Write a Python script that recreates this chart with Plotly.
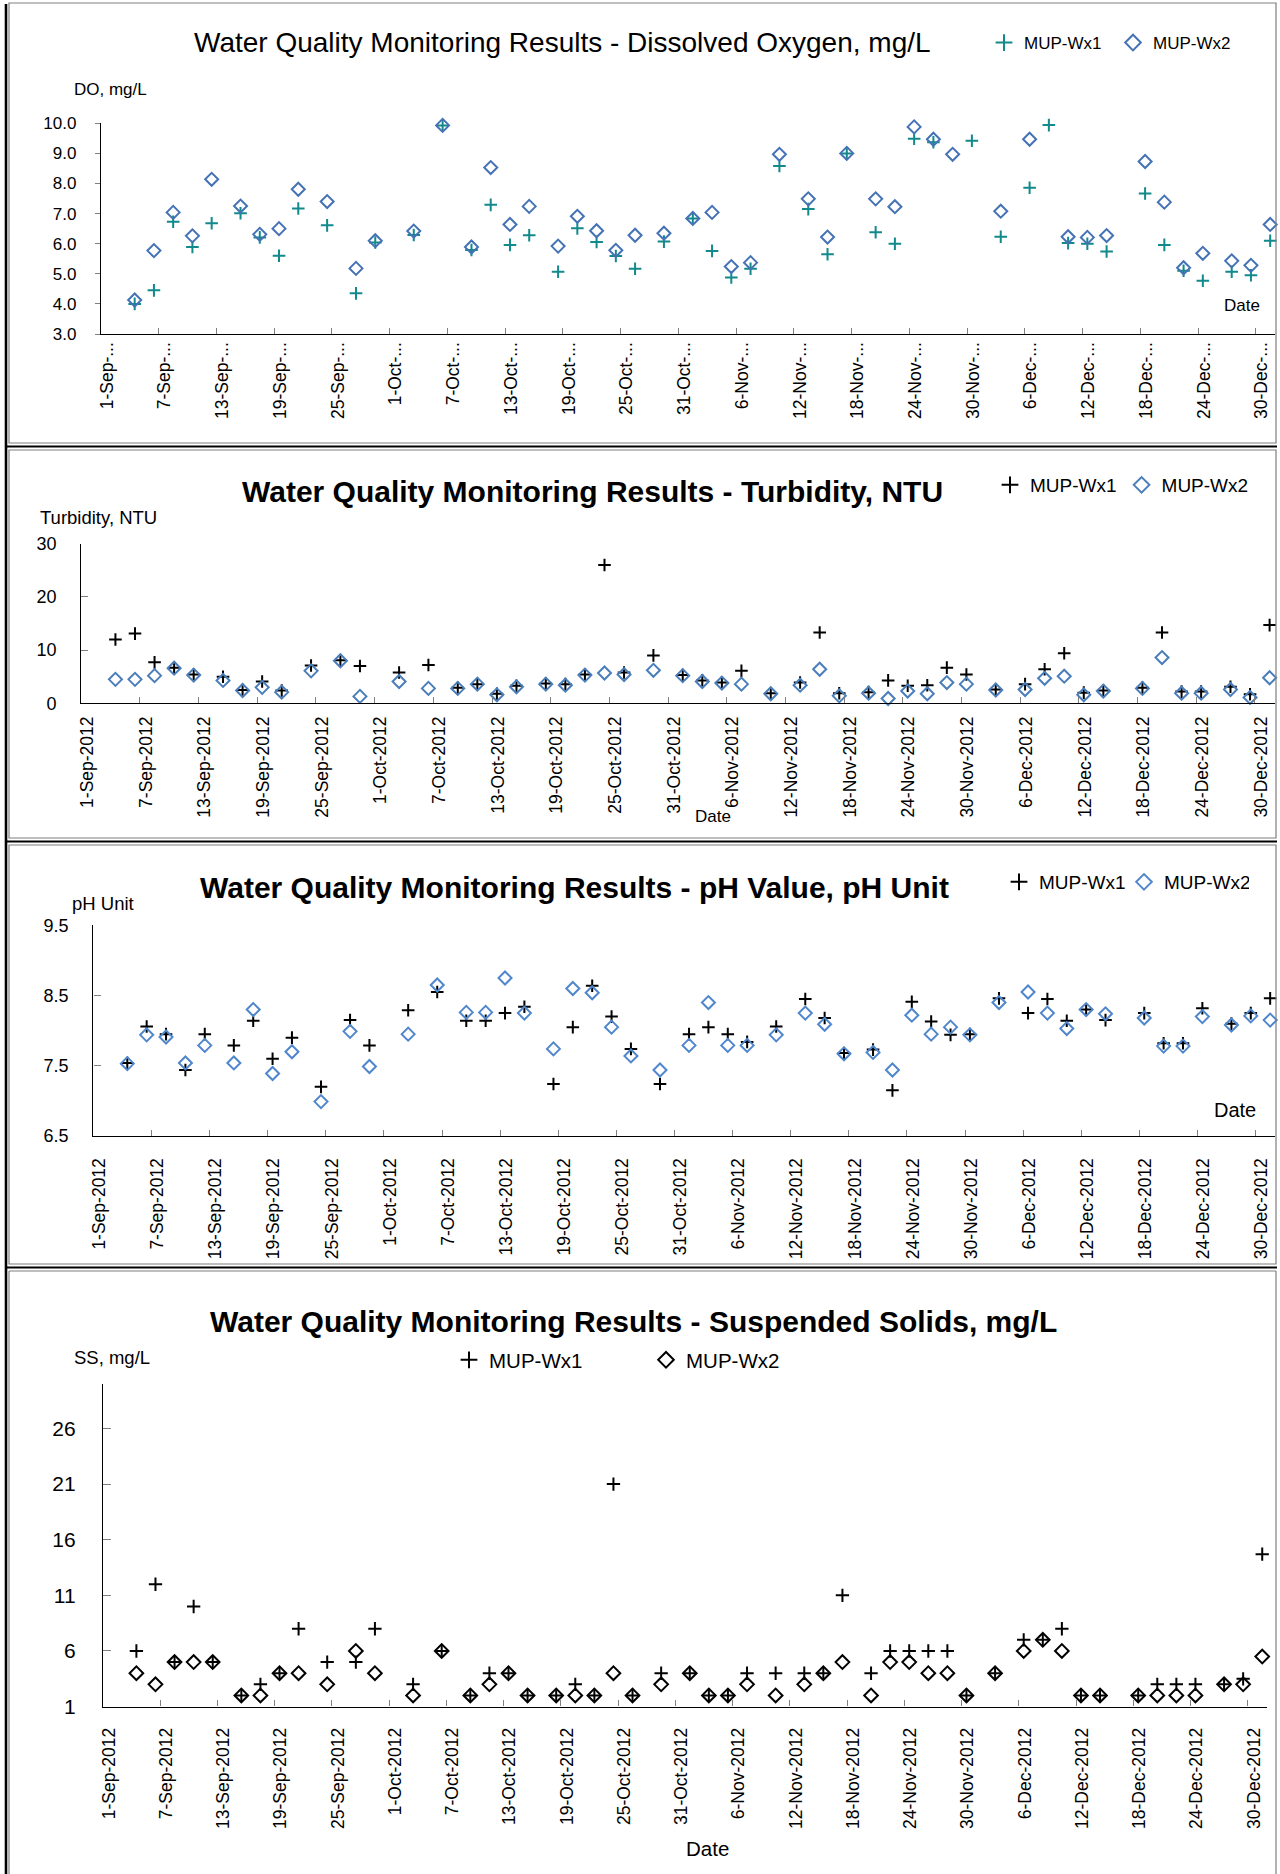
import plotly.graph_objects as go
import pandas as pd

W, H = 1280, 1874
FONT = "Liberation Sans, Arial, Helvetica, sans-serif"

# ---------------- data ----------------
DATES = [
    "2012-09-04", "2012-09-06", "2012-09-08", "2012-09-10", "2012-09-12",
    "2012-09-15", "2012-09-17", "2012-09-19", "2012-09-21",
    "2012-09-24", "2012-09-27", "2012-09-29",
    "2012-10-03", "2012-10-06", "2012-10-09", "2012-10-11", "2012-10-13", "2012-10-15",
    "2012-10-18", "2012-10-20", "2012-10-22", "2012-10-24", "2012-10-26",
    "2012-10-29",
    "2012-11-01", "2012-11-03", "2012-11-05", "2012-11-07",
    "2012-11-10", "2012-11-13", "2012-11-15", "2012-11-17",
    "2012-11-20", "2012-11-22", "2012-11-24", "2012-11-26", "2012-11-28", "2012-11-30",
    "2012-12-03", "2012-12-06", "2012-12-08", "2012-12-10", "2012-12-12", "2012-12-14",
    "2012-12-18", "2012-12-20", "2012-12-22", "2012-12-24",
    "2012-12-27", "2012-12-29", "2012-12-31",
]

DO_WX1 = [4.0, 4.45, 6.73, 5.89, 6.68, 7.01, 6.21, 5.60, 7.17, 6.61, 4.35, 6.04,
          6.29, 9.93, 5.79, 7.29, 5.96, 6.28, 5.07, 6.51, 6.06, 5.59, 5.17, 6.07,
          6.84, 5.76, 4.88, 5.17, 8.58, 7.15, 5.65, 9.0, 6.38, 6.0, 9.49, 9.37, None, 9.42,
          6.23, 7.86, 9.94, 6.02, 6.0, 5.74, 7.67, 5.96, 5.1, 4.77, 5.07, 4.95, 6.1]
DO_WX2 = [4.13, 5.77, 7.04, 6.26, 8.14, 7.25, 6.31, 6.50, 7.81, 7.40, 5.18, 6.10,
          6.42, 9.93, 5.89, 8.53, 6.64, 7.24, 5.92, 6.91, 6.43, 5.78, 6.28, 6.35,
          6.84, 7.04, 5.24, 5.37, 8.97, 7.49, 6.22, 9.0, 7.49, 7.23, 9.88, 9.47, 8.97, None,
          7.08, 9.47, None, 6.23, 6.21, 6.27, 8.73, 7.38, 5.2, 5.68, 5.43, 5.28, 6.64]

TURB_WX1 = [12.0, 13.1, 7.7, 6.7, 5.4, 5.0, 2.5, 4.1, 2.4, 7.1, 8.1, 7.0,
            5.8, 7.2, 2.9, 3.6, 1.8, 3.3, 3.7, 3.6, 5.4, 26.0, 5.8, 9.0,
            5.3, 4.3, 3.9, 6.1, 1.9, 3.9, 13.3, 1.9, 2.1, 4.3, 3.3, 3.4, 6.7, 5.4,
            2.6, 3.6, 6.4, 9.4, 2.0, 2.4, 2.9, 13.3, 2.2, 2.2, 3.1, 1.7, 14.7]
TURB_WX2 = [4.5, 4.5, 5.2, 6.6, 5.3, 4.3, 2.4, 3.0, 2.1, 6.1, 8.0, 1.3,
            4.1, 2.8, 2.8, 3.6, 1.6, 3.1, 3.6, 3.4, 5.3, 5.7, 5.4, 6.2,
            5.2, 4.1, 3.8, 3.6, 1.8, 3.4, 6.4, 1.4, 1.9, 0.9, 2.3, 1.8, 3.9, 3.6,
            2.5, 2.6, 4.7, 5.1, 1.6, 2.3, 2.8, 8.6, 1.9, 1.9, 2.6, 1.1, 4.8]

PH_WX1 = [7.54, 8.06, 7.95, 7.44, 7.95, 7.79, 8.14, 7.60, 7.90, 7.20, 8.15, 7.79,
          8.29, 8.55, 8.14, 8.14, 8.25, 8.34, 7.24, 8.05, 8.64, 8.20, 7.74, 7.24,
          7.95, 8.05, 7.95, 7.84, 8.06, 8.45, 8.18, 7.68, 7.73, 7.15, 8.41, 8.13, 7.94, 7.95,
          8.46, 8.25, 8.45, 8.14, 8.30, 8.15, 8.25, 7.82, 7.82, 8.32, 8.10, 8.25, 8.46]
PH_WX2 = [7.53, 7.94, 7.91, 7.54, 7.79, 7.54, 8.30, 7.39, 7.70, 6.99, 7.99, 7.49,
          7.95, 8.65, 8.26, 8.26, 8.75, 8.25, 7.74, 8.60, 8.54, 8.05, 7.64, 7.44,
          7.79, 8.40, 7.79, 7.79, 7.94, 8.25, 8.09, 7.67, 7.69, 7.44, 8.22, 7.95, 8.05, 7.94,
          8.40, 8.55, 8.25, 8.03, 8.30, 8.24, 8.18, 7.78, 7.78, 8.20, 8.08, 8.21, 8.15]

SS_WX1 = [6, 12, 5, 10, 5, 2, 3, 4, 8, 5, 5, 8,
          3, 6, 2, 4, 4, 2, 2, 3, 2, 21, 2, 4,
          4, 2, 2, 4, 4, 4, 4, 11, 4, 6, 6, 6, 6, 2,
          4, 7, 7, 8, 2, 2, 2, 3, 3, 3, 3, 3.5, 14.7]
SS_WX2 = [4, 3, 5, 5, 5, 2, 2, 4, 4, 3, 6, 4,
          2, 6, 2, 3, 4, 2, 2, 2, 2, 4, 2, 3,
          4, 2, 2, 3, 2, 3, 4, 5, 2, 5, 5, 4, 4, 2,
          4, 6, 7, 6, 2, 2, 2, 2, 2, 2, 3, 3, 5.5]

SERIES_NAMES = ["MUP-Wx1", "MUP-Wx2"]
TITLES = [
    "Water Quality Monitoring Results - Dissolved Oxygen, mg/L",
    "Water Quality Monitoring Results - Turbidity, NTU",
    "Water Quality Monitoring Results - pH Value, pH Unit",
    "Water Quality Monitoring Results - Suspended Solids, mg/L",
]
Y_TITLES = ["DO, mg/L", "Turbidity, NTU", "pH Unit", "SS, mg/L"]
X_TITLE = "Date"

# ---------------- helpers ----------------
def fx(px):
    return px / W

def fy(py):
    return 1 - py / H

# Excel "between tick marks": each sample sits in the middle of its day slot
xpos = pd.to_datetime(pd.Series(DATES)) + pd.Timedelta(hours=12)

panels = [
    dict(wx1=DO_WX1, wx2=DO_WX2, c1="#12898a", c2="#4472b5", c2size=10, c1size=9,
         xdom=(101, 1275), ydom=(123.3, 334), yrange=[3, 10], dtick=1, y0=3, yfmt=".1f",
         yticks="outside", ytlen=5, yfont=17, ystand=15, xfmt="%-d-%b-...", xstand=0,
         title_font=dict(size=28, weight=400), title_xy=(562, 42),
         ytitle_xy=(72, 90), ytitle_size=17, date_xy=(1242, 306), date_size=17,
         leg_xy=(984, 43), leg_size=17, leg_ew=84),
    dict(wx1=TURB_WX1, wx2=TURB_WX2, c1="#000000", c2="#4a7ebb", c2size=10, c1size=9,
         xdom=(81.2, 1274.5), ydom=(543.7, 703.3), yrange=[0, 30], dtick=10, y0=0, yfmt="d",
         yticks="inside", ytlen=7, yfont=18, ystand=20, xfmt="%-d-%b-%Y", xstand=5,
         title_font=dict(size=30, weight=700), title_xy=(592, 491),
         ytitle_xy=(38, 517), ytitle_size=18.5, date_xy=(713, 817), date_size=17,
         leg_xy=(990, 485), leg_size=19, leg_ew=None),
    dict(wx1=PH_WX1, wx2=PH_WX2, c1="#000000", c2="#4f86cc", c2size=10, c1size=9,
         xdom=(93.4, 1275), ydom=(925.3, 1136), yrange=[6.5, 9.5], dtick=1, y0=6.5, yfmt=".1f",
         yticks="inside", ytlen=7, yfont=18, ystand=20, xfmt="%-d-%b-%Y", xstand=14,
         title_font=dict(size=30, weight=700), title_xy=(574, 887),
         ytitle_xy=(70, 903), ytitle_size=18.5, date_xy=(1235, 1110), date_size=20,
         leg_xy=(999, 882), leg_size=19, leg_ew=80),
    dict(wx1=SS_WX1, wx2=SS_WX2, c1="#000000", c2="#000000", c2size=10.5, c1size=9.5,
         xdom=(103, 1267), ydom=(1384, 1706.6), yrange=[1, 30], dtick=5, y0=1, yfmt="d",
         yticks="inside", ytlen=8, yfont=21, ystand=22, xfmt="%-d-%b-%Y", xstand=13,
         title_font=dict(size=30, weight=700), title_xy=(633, 1321),
         ytitle_xy=(72, 1357), ytitle_size=18.5, date_xy=(707, 1848), date_size=20.5,
         leg_xy=(449, 1360), leg_size=20.5, leg_ew=152),
]

fig = go.Figure()
layout = dict(
    width=W, height=H, margin=dict(l=0, r=0, t=0, b=0, pad=0, autoexpand=False),
    paper_bgcolor="white", plot_bgcolor="rgba(0,0,0,0)",
    font=dict(family=FONT, color="#000000"),
    annotations=[], shapes=[],
)

for i, p in enumerate(panels, start=1):
    sfx = "" if i == 1 else str(i)
    xa, ya = "x" + sfx, "y" + sfx
    leg = "legend" + sfx
    fig.add_trace(go.Scatter(
        x=xpos, y=p["wx1"], mode="markers", name=SERIES_NAMES[0],
        xaxis=xa, yaxis=ya, legend=leg, cliponaxis=False,
        marker=dict(symbol="cross-thin", size=p["c1size"], color=p["c1"],
                    line=dict(color=p["c1"], width=2)),
    ))
    fig.add_trace(go.Scatter(
        x=xpos, y=p["wx2"], mode="markers", name=SERIES_NAMES[1],
        xaxis=xa, yaxis=ya, legend=leg, cliponaxis=False,
        marker=dict(symbol="diamond-open", size=p["c2size"], color=p["c2"],
                    line=dict(color=p["c2"], width=2)),
    ))

    layout["xaxis" + sfx] = dict(
        domain=[fx(p["xdom"][0]), fx(p["xdom"][1])], anchor=ya, automargin=False,
        type="date", range=["2012-09-01", "2013-01-01"],
        tick0="2012-09-01", dtick=6 * 86400000, tickformat=p["xfmt"],
        tickangle=-90, ticks="inside", ticklen=6, tickcolor="#808080", tickwidth=1,
        showline=True, linecolor="#000000", linewidth=1.3,
        showgrid=False, zeroline=False,
        tickfont=dict(family=FONT, size=17.5, color="#000000"),
        ticklabelshift=6, ticklabelstandoff=p["xstand"],
    )
    layout["yaxis" + sfx] = dict(
        domain=[fy(p["ydom"][1]), fy(p["ydom"][0])], anchor=xa, automargin=False,
        range=p["yrange"], tick0=p["y0"], dtick=p["dtick"], tickformat=p["yfmt"],
        ticks=p["yticks"], ticklen=p["ytlen"], tickcolor="#808080", tickwidth=1,
        showline=True, linecolor="#000000", linewidth=1.3,
        showgrid=False, zeroline=False,
        tickfont=dict(family=FONT, size=p["yfont"], color="#000000"),
        ticklabelstandoff=p["ystand"],
    )
    legend_cfg = dict(
        x=fx(p["leg_xy"][0]), y=fy(p["leg_xy"][1]), xanchor="left", yanchor="middle",
        orientation="h", bgcolor="rgba(0,0,0,0)", borderwidth=0,
        font=dict(family=FONT, size=p["leg_size"], color="#000000"),
        itemwidth=30, itemsizing="constant",
    )
    if p["leg_ew"]:
        legend_cfg["entrywidth"] = p["leg_ew"]
    layout[leg] = legend_cfg
    # chart title
    layout["annotations"].append(dict(
        text=TITLES[i - 1], xref="paper", yref="paper",
        x=fx(p["title_xy"][0]), y=fy(p["title_xy"][1]), xanchor="center", yanchor="middle",
        showarrow=False, font=dict(family=FONT, color="#000000", **p["title_font"]),
    ))
    # y-axis title
    layout["annotations"].append(dict(
        text=Y_TITLES[i - 1], xref="paper", yref="paper",
        x=fx(p["ytitle_xy"][0]), y=fy(p["ytitle_xy"][1]), xanchor="left", yanchor="middle",
        showarrow=False, font=dict(family=FONT, size=p["ytitle_size"], color="#000000"),
    ))
    # x-axis title
    layout["annotations"].append(dict(
        text=X_TITLE, xref="paper", yref="paper",
        x=fx(p["date_xy"][0]), y=fy(p["date_xy"][1]), xanchor="center", yanchor="middle",
        showarrow=False, font=dict(family=FONT, size=p["date_size"], color="#000000"),
    ))

# panel frames
GRAY = "#7f7f7f"
frames = [(3, 443), (450, 838), (845, 1264)]
for (t, b) in frames:
    layout["shapes"].append(dict(type="rect", xref="paper", yref="paper",
                                 x0=fx(9), x1=fx(1276), y0=fy(b), y1=fy(t),
                                 line=dict(color=GRAY, width=1.2)))
# last (open-bottom) frame
for seg in [((9, 1271), (1276, 1271)), ((9, 1271), (9, 1874)), ((1276, 1271), (1276, 1874))]:
    (xa0, ya0), (xa1, ya1) = seg
    layout["shapes"].append(dict(type="line", xref="paper", yref="paper",
                                 x0=fx(xa0), y0=fy(ya0), x1=fx(xa1), y1=fy(ya1),
                                 line=dict(color=GRAY, width=1.2)))
# black separators
for yb in [446.5, 841.5, 1267.5]:
    layout["shapes"].append(dict(type="line", xref="paper", yref="paper",
                                 x0=fx(6), y0=fy(yb), x1=fx(1277), y1=fy(yb),
                                 line=dict(color="#000000", width=2.2)))
layout["shapes"].append(dict(type="line", xref="paper", yref="paper",
                             x0=fx(6), y0=fy(4), x1=fx(6), y1=fy(1874),
                             line=dict(color="#000000", width=2.6)))

fig.update_layout(**layout)
fig.write_html(
    "out.html",
    config={"displayModeBar": False},
    post_script="document.body.style.margin='0';document.body.style.overflow='hidden';",
)
